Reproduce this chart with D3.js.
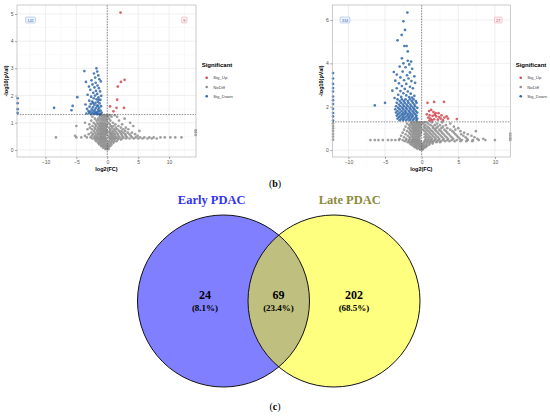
<!DOCTYPE html>
<html>
<head>
<meta charset="utf-8">
<script src="https://cdn.jsdelivr.net/npm/d3@7"></script>
<style>
  body { margin: 0; background: #fff; }
  svg { display: block; }
</style>
</head>
<body>
<div id="figure"></div>
<script>
// ---- data ----
var legendLabels = ["Sig_Up", "NoDiff", "Sig_Down"];
var pThreshold = 1.301;

// panel (b), left volcano
var xTicksA = [-10, -5, 0, 5, 10];
var yTicksA = [0, 1, 2, 3, 4, 5];
var countLabelsA = ["142", "9"];
var downA = [[-3.7,2.9],[-1.75,3.0],[-1.62,2.88],[-2.15,2.81],[-1.45,2.74],[-3.45,2.5],[-1.95,2.66],[-1.28,2.6],
  [-2.55,2.56],[-1.88,2.47],[-1.05,2.52],[-2.38,2.41],[-1.58,2.37],[-2.96,2.33],[-2.07,2.3],[-1.36,2.27],
  [-2.74,2.21],[-1.83,2.17],[-1.17,2.15],[-2.27,2.1],[-1.63,2.06],[-3.18,2.03],[-1.97,2.0],[-0.98,1.99],
  [-2.61,1.96],[-1.42,1.93],[-4.85,1.94],[-2.19,1.9],[-1.73,1.86],[-1.12,1.84],[-2.92,1.81],[-2.44,1.78],
  [-1.52,1.77],[-1.91,1.73],[-1.24,1.71],[-2.68,1.69],[-3.52,1.67],[-2.08,1.65],[-1.66,1.63],[-1.01,1.61],
  [-5.6,1.62],[-2.87,1.59],[-2.33,1.57],[-1.79,1.55],[-1.31,1.54],[-8.6,1.55],[-3.27,1.51],[-2.52,1.49],
  [-2.01,1.48],[-1.47,1.47],[-1.08,1.45],[-5.8,1.46],[-3.04,1.43],[-2.71,1.41],[-2.24,1.43],[-1.69,1.39],
  [-1.34,1.41],[-0.92,1.37],[-2.93,1.36],[-2.41,1.35],[-1.86,1.34],[-1.55,1.33],[-1.13,1.32],[-3.38,1.34],
  [-2.12,1.32],[-1.62,1.31],[-2.63,1.31],[-1.21,1.3],[-1.5,1.62],[-2.3,1.72],[-1.4,1.85],[-2.0,1.38],
  [-14.5,1.9],[-14.5,1.72],[-14.5,1.5],[-14.5,1.36]];
var upA = [[2.15,5.05],[2.8,2.58],[2.2,2.5],[1.7,2.33],[1.6,1.85],[0.45,1.6],[1.5,1.55],[2.7,1.55],[1.0,1.42]];
var grayRowsA = [
  [1.28, [-1.0,-0.7,-0.4,-0.1,0.2,0.5,1.2]],
  [1.22, [-2.4,-1.25,-0.85,-0.55,-0.25,0.1,0.7,1.6]],
  [1.15, [-2.0,-1.5,-1.1,-0.8,-0.5,-0.2,0.3,2.8]],
  [1.08, [-2.6,-1.75,-1.35,-0.95,-0.65,-0.35,-0.05,0.5,1.9]],
  [1.00, [-3.6,-2.2,-1.6,-1.2,-0.9,-0.6,-0.3,0.2,0.9,3.7]],
  [0.94, [-2.9,-1.95,-1.45,-1.05,-0.75,-0.45,-0.15,0.4,1.3,2.4]],
  [0.88, [-5.0,-2.4,-1.8,-1.3,-1.0,-0.7,-0.4,-0.1,0.6,1.0,1.8,4.2]],
  [0.82, [-2.8,-2.05,-1.55,-1.15,-0.85,-0.55,-0.25,0.3,0.8,1.4,2.2,3.0]],
  [0.76, [-3.2,-2.5,-1.9,-1.4,-1.1,-0.8,-0.5,-0.2,0.5,1.1,1.6,2.6,3.4]],
  [0.70, [-2.2,-1.65,-1.25,-0.95,-0.65,-0.35,-0.05,0.4,0.85,1.3,1.9,2.3,2.9,5.2]],
  [0.64, [-2.6,-2.0,-1.5,-1.1,-0.8,-0.5,-0.2,0.3,0.6,1.0,1.5,2.1,2.6,3.3,4.0]],
  [0.58, [-3.0,-2.3,-1.75,-1.35,-1.05,-0.75,-0.45,-0.15,0.5,0.8,1.2,1.7,2.3,2.9,3.6,4.5]],
  [0.52, [-5.2,-3.6,-2.5,-2.0,-1.6,-1.2,-0.9,-0.6,-0.3,0.2,0.6,0.9,1.3,1.8,2.4,3.0,3.8,4.9]],
  [0.46, [-8.3,-5.0,-4.2,-3.3,-2.7,-2.1,-1.7,-1.3,-1.0,-0.7,-0.4,0.3,0.7,1.1,1.5,2.0,2.6,3.2,4.0,4.6,5.3,6.0,6.8,7.5,8.6,9.3,10.2,11.0,12.0]],
  [0.42, [-2.4,-1.85,-1.45,-1.05,-0.75,-0.45,-0.15,0.5,0.9,1.3,1.8,2.4,3.0,3.6,4.3,5.0,5.7,6.5,7.2,8.0]],
  [0.38, [-2.0,-1.6,-1.2,-0.9,-0.6,-0.3,0.4,0.8,1.2,1.7,2.2]],
  [0.32, [-1.8,-1.35,-1.05,-0.75,-0.45,-0.15,0.3,0.7,1.1,1.5]],
  [0.26, [-1.5,-1.2,-0.9,-0.6,-0.3,0.2,0.6,1.0]],
  [0.20, [-1.3,-0.95,-0.65,-0.35,-0.05,0.3,0.7]],
  [0.14, [-1.0,-0.7,-0.4,-0.1,0.2,0.5]],
  [0.08, [-0.7,-0.4,-0.1,0.2]],
  [0.03, [-0.3,0.0,0.2]],
  [0.55, [14.3]], [0.65, [14.3]], [0.72, [14.3]]
];

// panel (b), right volcano
var xTicksB = [-10, -5, 0, 5, 10];
var yTicksB = [0, 2, 4, 6];
var countLabelsB = ["334", "27"];
var downB = [[-1.95,6.34],[-2.5,5.94],[-2.27,5.54],[-2.73,5.31],[-3.3,5.06],[-2.36,4.8],[-2.05,4.8],[-1.9,4.55],
  [-2.7,4.23],[-1.9,4.12],[-1.45,4.08],[-2.5,4.0],[-1.7,3.95],[-3.0,3.85],[-2.2,3.82],[-1.3,3.75],[-3.8,3.6],
  [-2.6,3.62],[-1.6,3.58],[-3.4,3.48],[-2.0,3.45],[-1.0,3.4],[-2.9,3.35],[-1.8,3.3],[-3.6,3.2],[-2.4,3.22],
  [-1.4,3.18],[-3.1,3.08],[-2.1,3.05],[-0.9,3.1],[-2.7,2.95],[-1.6,2.92],[-3.4,2.85],[-2.3,2.82],[-1.2,2.85],
  [-4.0,2.74],[-2.9,2.72],[-1.9,2.7],[-2.5,2.62],[-1.5,2.6],[-3.2,2.55],[-2.1,2.52],[-1.0,2.5],[-2.8,2.45],
  [-1.7,2.44],[-6.4,2.06],[-5.0,2.18],[-3.7,2.4],[-1.3,2.42]];
var downRowsB = [
  [2.34, [-3.3,-2.7,-2.2,-1.6,-1.1]],
  [2.26, [-3.0,-2.45,-1.9,-1.35,-0.8]],
  [2.18, [-3.4,-2.8,-2.3,-1.8,-1.2,-0.7]],
  [2.10, [-3.1,-2.55,-2.05,-1.55,-1.0]],
  [2.02, [-3.5,-2.9,-2.4,-1.9,-1.4,-0.9]],
  [1.95, [-3.2,-2.65,-2.15,-1.65,-1.15,-0.6]],
  [1.88, [-3.6,-3.0,-2.5,-2.0,-1.5,-1.0]],
  [1.80, [-3.3,-2.75,-2.25,-1.75,-1.25,-0.8]],
  [1.73, [-3.5,-3.0,-2.5,-2.1,-1.6,-1.1,-0.6]],
  [1.66, [-3.2,-2.7,-2.3,-1.85,-1.4,-0.9]],
  [1.59, [-3.4,-2.9,-2.5,-2.0,-1.6,-1.2,-0.7]],
  [1.52, [-3.1,-2.6,-2.2,-1.75,-1.3,-0.8]],
  [1.45, [-3.3,-2.8,-2.4,-1.9,-1.5,-1.0,-0.6]],
  [1.38, [-3.0,-2.55,-2.1,-1.65,-1.2,-0.7]]
];
var edgeDownB = [1.36,1.55,1.71,1.9,2.12,2.3,2.47,2.7,2.86,3.05,3.3,3.55];
var upB = [[0.8,2.18],[1.7,2.22],[3.05,2.22],[1.0,1.8],[1.3,1.85],[1.6,1.75],[1.9,1.7],[1.1,1.6],[1.5,1.58],
  [2.0,1.55],[2.4,1.52],[1.2,1.45],[1.7,1.42],[2.2,1.4],[2.6,1.45],[0.9,1.5],[1.4,1.38],[1.8,1.62],[2.7,1.6],
  [3.4,1.55],[3.6,1.45],[4.8,1.43],[2.9,1.38],[1.05,1.36],[2.3,1.7],[0.7,1.65],[3.1,1.5]];
var grayRowsB = [
  [1.28, [-1.4,-1.0,-0.7,-0.4,-0.1,0.3,0.6,1.4,2.8]],
  [1.22, [-2.0,-1.5,-1.2,-0.85,-0.55,-0.25,0.2,0.9,2.1,3.9]],
  [1.15, [-1.7,-1.3,-1.0,-0.7,-0.4,-0.1,0.5,1.2,1.8,2.5,3.3]],
  [1.08, [-2.2,-1.55,-1.15,-0.85,-0.55,-0.25,0.3,0.8,1.5,2.2,2.9,4.4]],
  [1.01, [-1.8,-1.3,-1.0,-0.7,-0.4,-0.1,0.5,1.0,1.6,2.0,2.7,3.5,5.0]],
  [0.94, [-2.4,-1.6,-1.2,-0.9,-0.6,-0.3,0.2,0.7,1.2,1.8,2.4,3.1,3.9,4.6]],
  [0.87, [-2.0,-1.45,-1.05,-0.75,-0.45,-0.15,0.4,0.9,1.4,2.0,2.6,3.3,4.2,5.3,7.4]],
  [0.80, [-2.6,-1.7,-1.3,-1.0,-0.7,-0.4,-0.1,0.6,1.1,1.6,2.2,2.8,3.5,4.4,5.8]],
  [0.73, [-2.2,-1.55,-1.15,-0.85,-0.55,-0.25,0.4,0.8,1.3,1.8,2.4,3.0,3.7,4.6,5.4,6.3]],
  [0.66, [-2.8,-1.9,-1.4,-1.1,-0.8,-0.5,-0.2,0.6,1.0,1.5,2.0,2.6,3.2,3.9,4.8,5.7,6.8]],
  [0.59, [-2.4,-1.65,-1.25,-0.95,-0.65,-0.35,0.4,0.8,1.2,1.7,2.2,2.8,3.4,4.1,5.0,6.0,7.2]],
  [0.52, [-3.0,-2.1,-1.6,-1.2,-0.9,-0.6,-0.3,0.6,1.0,1.4,1.9,2.4,3.0,3.6,4.3,5.2,6.2,7.6,8.4]],
  [0.46, [-7.0,-6.4,-5.9,-5.3,-4.6,-4.1,-3.6,-3.1,-2.6,-2.1,-1.7,-1.3,-1.0,-0.7,-0.4,0.5,0.9,1.3,1.8,2.3,2.9,3.5,4.1,4.8,5.5,6.3,7.0,7.8,8.7,10.0]],
  [0.41, [-2.3,-1.75,-1.35,-1.05,-0.75,-0.45,-0.15,0.4,0.8,1.2,1.6,2.1,2.6,3.2,3.8,4.5,5.3,6.1,6.9]],
  [0.36, [-1.9,-1.5,-1.2,-0.9,-0.6,-0.3,0.3,0.7,1.1,1.5,2.0,2.5]],
  [0.30, [-1.6,-1.25,-0.95,-0.65,-0.35,-0.05,0.3,0.7,1.1,1.5]],
  [0.24, [-1.4,-1.1,-0.8,-0.5,-0.2,0.2,0.6,1.0]],
  [0.18, [-1.1,-0.75,-0.45,-0.15,0.1,0.4,0.7]],
  [0.12, [-0.9,-0.6,-0.3,0.0,0.3,0.5]],
  [0.06, [-0.6,-0.3,0.0,0.2]],
  [0.02, [-0.2,0.1]],
  [0.48, [-12.1]], [0.62, [-12.1]], [0.75, [-12.1]], [0.88, [-12.1]], [1.0, [-12.1]], [1.12, [-12.1]], [1.24, [-12.1]],
  [0.46, [12.1]], [0.55, [12.1]], [0.66, [12.1]], [0.76, [12.1]]
];

// panel (c), Venn
var vennSets = ["Early PDAC", "Late PDAC"];
var vennCounts = [24, 69, 202];
var vennPercents = ["(8.1%)", "(23.4%)", "(68.5%)"];

// ---- layout ----
var svgWidth = 550;
var svgHeight = 417;
var colors = { up: "#d0464f", no: "#8e8e8e", down: "#2f66aa" };

var svg = d3.select("#figure")
  .append("svg")
  .attr("width", svgWidth)
  .attr("height", svgHeight);

function rowsToPoints(rows) {
  var pts = [];
  rows.forEach(function(r) {
    r[1].forEach(function(v) { pts.push([v, r[0]]); });
  });
  return pts;
}

function drawVolcano(cfg) {
  var x = d3.scaleLinear().domain(cfg.xDomain).range([cfg.left, cfg.right]);
  var y = d3.scaleLinear().domain(cfg.yDomain).range([cfg.bottom, cfg.top]);
  var g = svg.append("g");

  // grid (major at ticks, minor in between)
  var xMinor = cfg.xTicks.map(function(t) { return t + 2.5; }).concat([cfg.xTicks[0] - 2.5]);
  var yStep = cfg.yTicks[1] - cfg.yTicks[0];
  var yMinor = cfg.yTicks.map(function(t) { return t + yStep / 2; });
  g.selectAll(".xminor").data(xMinor.filter(function(v) { return v > cfg.xDomain[0] && v < cfg.xDomain[1]; }))
    .enter().append("line")
    .attr("x1", d => x(d)).attr("x2", d => x(d))
    .attr("y1", cfg.top).attr("y2", cfg.bottom)
    .attr("stroke", "#f0f0f0").attr("stroke-width", 0.4);
  g.selectAll(".yminor").data(yMinor.filter(function(v) { return v < cfg.yDomain[1]; }))
    .enter().append("line")
    .attr("y1", d => y(d)).attr("y2", d => y(d))
    .attr("x1", cfg.left).attr("x2", cfg.right)
    .attr("stroke", "#f0f0f0").attr("stroke-width", 0.4);
  g.selectAll(".xmajor").data(cfg.xTicks)
    .enter().append("line")
    .attr("x1", d => x(d)).attr("x2", d => x(d))
    .attr("y1", cfg.top).attr("y2", cfg.bottom)
    .attr("stroke", "#e4e4e4").attr("stroke-width", 0.6);
  g.selectAll(".ymajor").data(cfg.yTicks)
    .enter().append("line")
    .attr("y1", d => y(d)).attr("y2", d => y(d))
    .attr("x1", cfg.left).attr("x2", cfg.right)
    .attr("stroke", "#e4e4e4").attr("stroke-width", 0.6);

  // points
  var layers = [
    { pts: cfg.gray, color: colors.no },
    { pts: cfg.down, color: colors.down },
    { pts: cfg.up, color: colors.up }
  ];
  layers.forEach(function(layer) {
    g.append("g").selectAll("circle")
      .data(layer.pts)
      .enter()
      .append("circle")
      .attr("cx", d => x(d[0]))
      .attr("cy", d => y(d[1]))
      .attr("r", 1.35)
      .attr("fill", layer.color)
      .attr("fill-opacity", 0.85);
  });

  // threshold lines
  g.append("line")
    .attr("x1", cfg.left).attr("x2", cfg.right)
    .attr("y1", y(pThreshold)).attr("y2", y(pThreshold))
    .attr("stroke", "#444").attr("stroke-width", 0.6).attr("stroke-dasharray", "1.5,1.2");
  g.append("line")
    .attr("x1", x(0)).attr("x2", x(0))
    .attr("y1", cfg.top).attr("y2", cfg.bottom)
    .attr("stroke", "#444").attr("stroke-width", 0.6).attr("stroke-dasharray", "1.5,1.2");

  // panel border
  g.append("rect")
    .attr("x", cfg.left).attr("y", cfg.top)
    .attr("width", cfg.right - cfg.left).attr("height", cfg.bottom - cfg.top)
    .attr("fill", "none").attr("stroke", "#b5b5b5").attr("stroke-width", 0.7);

  // axes
  var bottomAxis = d3.axisBottom(x).tickValues(cfg.xTicks).tickSize(2).tickPadding(1.5)
    .tickFormat(d3.format("d"));
  var leftAxis = d3.axisLeft(y).tickValues(cfg.yTicks).tickSize(2).tickPadding(1.5)
    .tickFormat(d3.format("d"));
  var xa = g.append("g").attr("transform", `translate(0, ${cfg.bottom})`).call(bottomAxis);
  var ya = g.append("g").attr("transform", `translate(${cfg.left}, 0)`).call(leftAxis);
  [xa, ya].forEach(function(a) {
    a.select(".domain").remove();
    a.selectAll("line").attr("stroke", "#555").attr("stroke-width", 0.5);
    a.selectAll("text").attr("font-size", 5).attr("fill", "#555")
      .attr("font-family", "Liberation Sans, Arial, sans-serif");
  });

  // axis titles
  g.append("text")
    .attr("x", (cfg.left + cfg.right) / 2)
    .attr("y", cfg.bottom + 14)
    .attr("text-anchor", "middle")
    .attr("font-size", 5.5).attr("font-weight", "bold")
    .attr("font-family", "Liberation Sans, Arial, sans-serif")
    .text("log2(FC)");
  g.append("text")
    .attr("transform", `translate(${cfg.left - 9}, ${(cfg.top + cfg.bottom) / 2}) rotate(-90)`)
    .attr("text-anchor", "middle")
    .attr("font-size", 5.5).attr("font-weight", "bold")
    .attr("font-family", "Liberation Sans, Arial, sans-serif")
    .text("-log10(pVal)");

  // count boxes
  var boxes = [
    { label: cfg.counts[0], cx: cfg.downBoxX, stroke: "#8fb1dc", fill: "#eef4fb", color: "#3b6fb5" },
    { label: cfg.counts[1], cx: cfg.upBoxX, stroke: "#e6a0aa", fill: "#fcf0f2", color: "#c0485a" }
  ];
  boxes.forEach(function(b) {
    var w = 3 + b.label.length * 2.3;
    g.append("rect")
      .attr("x", b.cx - w / 2).attr("y", 17)
      .attr("width", w).attr("height", 6)
      .attr("rx", 1)
      .attr("fill", b.fill).attr("stroke", b.stroke).attr("stroke-width", 0.5);
    g.append("text")
      .attr("x", b.cx).attr("y", 21.6)
      .attr("text-anchor", "middle")
      .attr("font-size", 4).attr("fill", b.color)
      .attr("font-family", "Liberation Sans, Arial, sans-serif")
      .text(b.label);
  });

  // legend
  var lg = g.append("g").attr("transform", `translate(${cfg.legendX}, 0)`);
  lg.append("text")
    .attr("x", 0).attr("y", 67)
    .attr("font-size", 6).attr("font-weight", "bold")
    .attr("font-family", "Liberation Sans, Arial, sans-serif")
    .text("Significant");
  var legendColors = [colors.up, colors.no, colors.down];
  legendLabels.forEach(function(l, i) {
    lg.append("circle")
      .attr("cx", 5).attr("cy", 77.7 + i * 9.3)
      .attr("r", 1.3).attr("fill", legendColors[i]);
    lg.append("text")
      .attr("x", 11.5).attr("y", 79.3 + i * 9.3)
      .attr("font-size", 4.3).attr("fill", "#444")
      .attr("font-family", "Liberation Sans, Arial, sans-serif")
      .text(l);
  });
}

drawVolcano({
  left: 17, right: 196, top: 5, bottom: 157,
  xDomain: [-14.6, 14.35], yDomain: [-0.26, 5.33],
  xTicks: xTicksA, yTicks: yTicksA,
  gray: rowsToPoints(grayRowsA), down: downA, up: upA,
  counts: countLabelsA, downBoxX: 30.5, upBoxX: 184.3,
  legendX: 201.7
});

drawVolcano({
  left: 332.3, right: 510.3, top: 5, bottom: 157,
  xDomain: [-12.2, 12.1], yDomain: [-0.32, 6.69],
  xTicks: xTicksB, yTicks: yTicksB,
  gray: rowsToPoints(grayRowsB),
  down: downB.concat(rowsToPoints(downRowsB)).concat(edgeDownB.map(function(v) { return [-12.1, v]; })),
  up: upB,
  counts: countLabelsB, downBoxX: 345, upBoxX: 498.3,
  legendX: 515.7
});

// ---- panel labels ----
function panelLabel(letter, yPos) {
  var t = svg.append("text")
    .attr("x", 275).attr("y", yPos)
    .attr("text-anchor", "middle")
    .attr("font-size", 10)
    .attr("font-family", "Liberation Serif, Times New Roman, serif");
  t.append("tspan").text("(");
  t.append("tspan").attr("font-weight", "bold").text(letter);
  t.append("tspan").text(")");
}
panelLabel("b", 187);
panelLabel("c", 410);

// ---- Venn ----
var venn = { cy: 301, r: 86, cxLeft: 223.5, cxRight: 334 };
var vennFills = ["#0000ff", "#ffff00"];
var vg = svg.append("g");

vg.selectAll("circle.fill")
  .data(vennSets)
  .enter()
  .append("circle")
  .attr("cx", (d, i) => i === 0 ? venn.cxLeft : venn.cxRight)
  .attr("cy", venn.cy)
  .attr("r", venn.r)
  .attr("fill", (d, i) => vennFills[i])
  .attr("fill-opacity", 0.5);

vg.selectAll("circle.edge")
  .data(vennSets)
  .enter()
  .append("circle")
  .attr("cx", (d, i) => i === 0 ? venn.cxLeft : venn.cxRight)
  .attr("cy", venn.cy)
  .attr("r", venn.r)
  .attr("fill", "none")
  .attr("stroke", "#111")
  .attr("stroke-width", 1);

var setTitleX = [211.7, 349.7];
var setTitleColor = ["#3434f2", "#8b8a3a"];
vg.selectAll("text.title")
  .data(vennSets)
  .enter()
  .append("text")
  .attr("x", (d, i) => setTitleX[i])
  .attr("y", 204.3)
  .attr("text-anchor", "middle")
  .attr("font-size", 12.5)
  .attr("font-weight", "bold")
  .attr("font-family", "Liberation Serif, Times New Roman, serif")
  .attr("fill", (d, i) => setTitleColor[i])
  .text(d => d);

var regionX = [205, 278.5, 354];
vg.selectAll("text.count")
  .data(vennCounts)
  .enter()
  .append("text")
  .attr("x", (d, i) => regionX[i])
  .attr("y", 299.3)
  .attr("text-anchor", "middle")
  .attr("font-size", 12)
  .attr("font-weight", "bold")
  .attr("font-family", "Liberation Serif, Times New Roman, serif")
  .text(d => d);

vg.selectAll("text.pct")
  .data(vennPercents)
  .enter()
  .append("text")
  .attr("x", (d, i) => regionX[i])
  .attr("y", 310.5)
  .attr("text-anchor", "middle")
  .attr("font-size", 9)
  .attr("font-weight", "bold")
  .attr("font-family", "Liberation Serif, Times New Roman, serif")
  .text(d => d);
</script>
</body>
</html>
